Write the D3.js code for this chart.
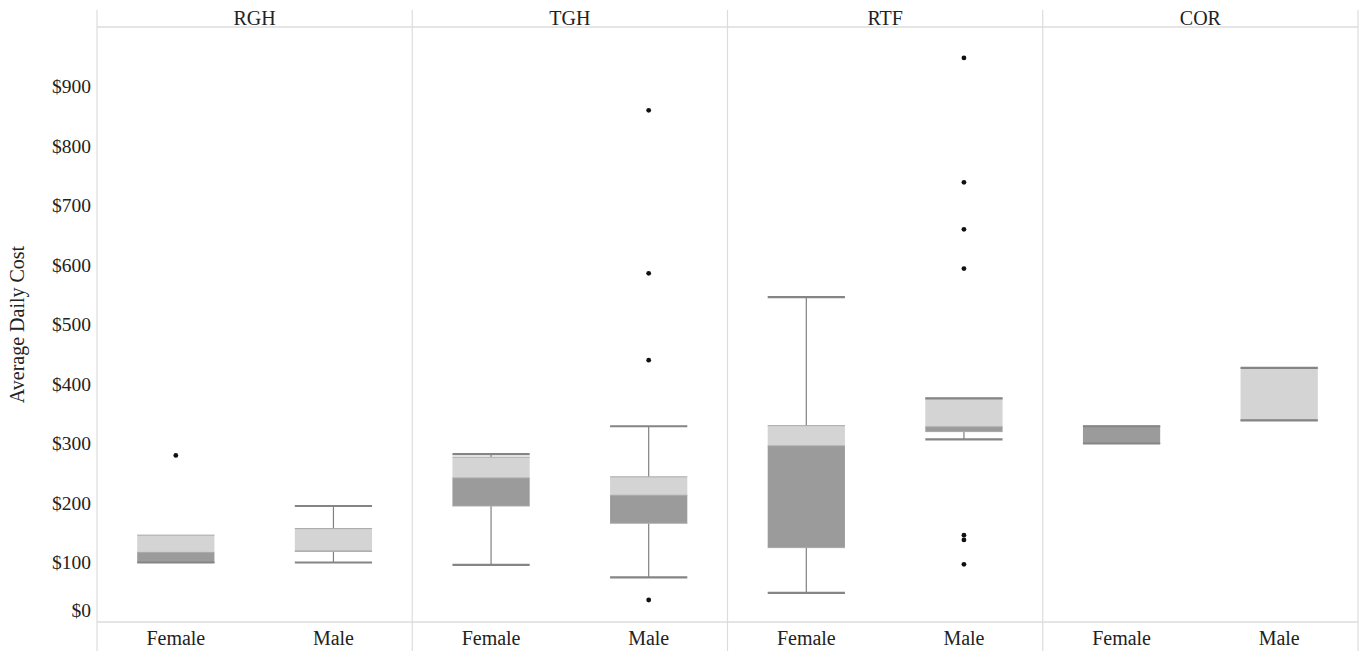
<!DOCTYPE html>
<html>
<head>
<meta charset="utf-8">
<script src="https://cdn.jsdelivr.net/npm/d3@7"></script>
<style>
  body { margin: 0; background: #fff; }
  svg text { font-family: "Liberation Serif", Tinos, "Times New Roman", "DejaVu Serif", serif; }
</style>
</head>
<body>
<svg id="chart" width="1364" height="651"></svg>
<script>
// data, one entry per box: RGH F/M, TGH F/M, RTF F/M, COR F/M
const facilities = ["RGH", "TGH", "RTF", "COR"];
const genders = ["Female", "Male"];
const whiskerLow  = [100, 100,  96,  75,  49, 307, 300, 339];
const q1          = [100, 119, 195, 166, 125, 320, 300, 339];
const median      = [117, 119, 242, 213, 296, 328, 329, 339];
const q3          = [146, 157, 277, 244, 330, 376, 329, 427];
const whiskerHigh = [146, 195, 282, 329, 546, 376, 329, 427];
const outliers = [[280], [], [], [37, 440, 586, 860], [], [97, 138, 146, 594, 660, 739, 948], [], []];
const yTicks = [0, 100, 200, 300, 400, 500, 600, 700, 800, 900];

const boxes = [];
facilities.forEach((f, i) => {
  genders.forEach((g, j) => {
    const k = i * 2 + j;
    boxes.push({
      facility: f, gender: g,
      lo: whiskerLow[k], q1: q1[k], med: median[k], q3: q3[k], hi: whiskerHigh[k],
      out: outliers[k]
    });
  });
});

const svg = d3.select("#chart");
const plotLeft = 97, plotRight = 1358, plotTop = 27, plotBottom = 622;

const x = d3.scaleBand().domain(facilities).range([plotLeft, plotRight]);
const xi = d3.scaleBand().domain(genders).range([0, x.bandwidth()])
  .paddingInner(0.51).paddingOuter(0.255);
const y = d3.scaleLinear().domain([0, 1000]).range([plotBottom, plotTop]);

const gridColor = "#dcdcdc";

// frame lines
svg.append("line").attr("x1", plotLeft).attr("x2", plotRight).attr("y1", plotTop).attr("y2", plotTop)
  .attr("stroke", gridColor).attr("stroke-width", 1.5);
svg.append("line").attr("x1", plotLeft).attr("x2", plotRight).attr("y1", plotBottom).attr("y2", plotBottom)
  .attr("stroke", gridColor).attr("stroke-width", 1.5);
svg.selectAll(".divider")
  .data(facilities.map(f => x(f)).concat([plotRight]))
  .join("line")
  .attr("class", "divider")
  .attr("x1", d => d).attr("x2", d => d)
  .attr("y1", 10).attr("y2", 651)
  .attr("stroke", gridColor).attr("stroke-width", 1.2);

// facility headers
svg.selectAll(".header")
  .data(facilities)
  .join("text")
  .attr("class", "header")
  .attr("x", d => x(d) + x.bandwidth() / 2)
  .attr("y", 25)
  .attr("text-anchor", "middle")
  .attr("font-size", 20)
  .attr("fill", "#222")
  .text(d => d);

// gender labels
svg.selectAll(".glabel")
  .data(boxes)
  .join("text")
  .attr("class", "glabel")
  .attr("x", d => x(d.facility) + xi(d.gender) + xi.bandwidth() / 2)
  .attr("y", 645)
  .attr("text-anchor", "middle")
  .attr("font-size", 20)
  .attr("fill", "#222")
  .text(d => d.gender);

// y axis
const yAxis = svg.append("g")
  .attr("transform", `translate(${plotLeft - 6},0)`)
  .call(d3.axisLeft(y).tickValues(yTicks).tickSize(0).tickPadding(0)
    .tickFormat(d => "$" + d));
yAxis.select(".domain").remove();
yAxis.attr("font-family", null);
yAxis.selectAll("text")
  .attr("font-size", 19.5)
  .attr("fill", "#222")
  .attr("dy", d => d === 0 ? "-0.3em" : "0.32em");

svg.append("text")
  .attr("transform", `translate(24,${(plotTop + plotBottom) / 2}) rotate(-90)`)
  .attr("text-anchor", "middle")
  .attr("font-size", 20)
  .attr("fill", "#222")
  .text("Average Daily Cost");

// boxes
const g = svg.selectAll(".box")
  .data(boxes)
  .join("g")
  .attr("class", "box")
  .attr("transform", d => `translate(${x(d.facility) + xi(d.gender)},0)`);

const bw = xi.bandwidth();
const whiskerColor = "#808080";

// whisker stems
g.append("line")
  .attr("x1", bw / 2).attr("x2", bw / 2)
  .attr("y1", d => y(d.hi)).attr("y2", d => y(d.q3))
  .attr("stroke", whiskerColor).attr("stroke-width", 1.2);
g.append("line")
  .attr("x1", bw / 2).attr("x2", bw / 2)
  .attr("y1", d => y(d.q1)).attr("y2", d => y(d.lo))
  .attr("stroke", whiskerColor).attr("stroke-width", 1.2);

// upper part (median to q3) light, lower part (q1 to median) dark
g.append("rect")
  .attr("x", 0).attr("width", bw)
  .attr("y", d => y(d.q3))
  .attr("height", d => y(d.med) - y(d.q3))
  .attr("fill", "#d4d4d4");
g.append("rect")
  .attr("x", 0).attr("width", bw)
  .attr("y", d => y(d.med))
  .attr("height", d => y(d.q1) - y(d.med))
  .attr("fill", "#9b9b9b");

// box edge lines
["q3", "med", "q1"].forEach(key => {
  g.append("line")
    .attr("x1", 0).attr("x2", bw)
    .attr("y1", d => y(d[key])).attr("y2", d => y(d[key]))
    .attr("stroke", "#a8a8a8").attr("stroke-width", 1);
});

// whisker caps (skipped where they sit on the box edge)
g.append("line")
  .filter(d => d.hi !== d.q3 || d.facility === "RTF" || d.facility === "COR")
  .attr("x1", 0).attr("x2", bw)
  .attr("y1", d => y(d.hi)).attr("y2", d => y(d.hi))
  .attr("stroke", "#858585").attr("stroke-width", 2.2);
g.append("line")
  .attr("x1", 0).attr("x2", bw)
  .attr("y1", d => y(d.lo)).attr("y2", d => y(d.lo))
  .attr("stroke", "#858585").attr("stroke-width", 2.2);

// outliers
g.selectAll(".out")
  .data(d => d.out)
  .join("circle")
  .attr("class", "out")
  .attr("cx", bw / 2)
  .attr("cy", d => y(d))
  .attr("r", 2.4)
  .attr("fill", "#111");
</script>
</body>
</html>
